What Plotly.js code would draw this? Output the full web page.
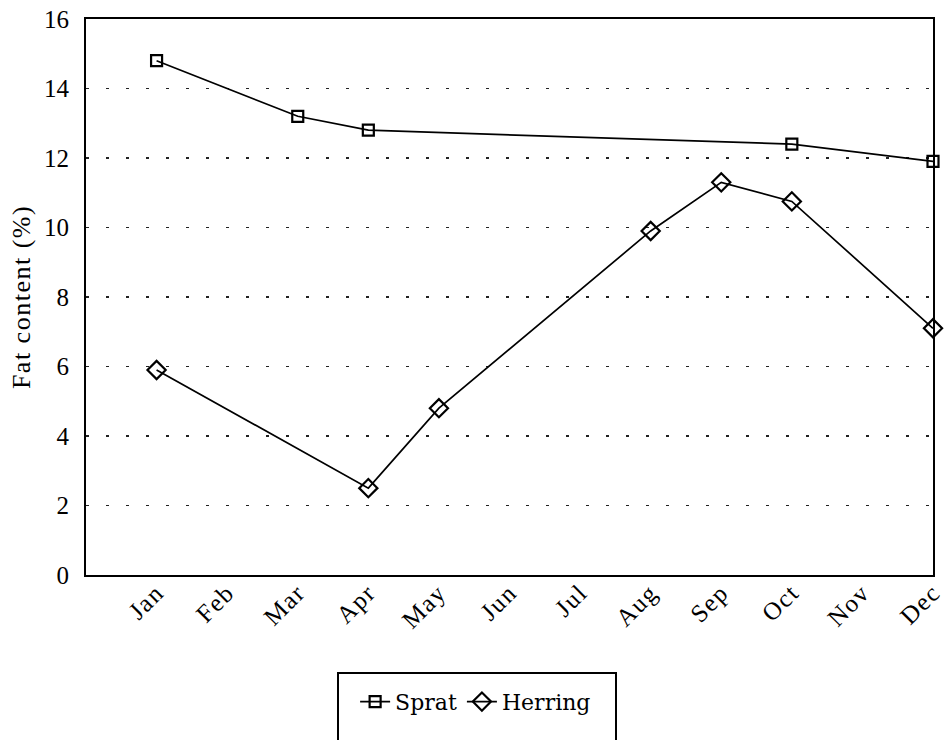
<!DOCTYPE html>
<html>
<head>
<meta charset="utf-8">
<script src="https://cdn.plot.ly/plotly-3.0.1.min.js"></script>
<style>
html,body{margin:0;padding:0;background:#fff;}
#chart{width:946px;height:740px;}
#chart .xtick text{letter-spacing:1.5px;}
#chart .ytitle{letter-spacing:1.5px;}
</style>
</head>
<body>
<div id="chart"></div>
<script>
const months = ["Jan","Feb","Mar","Apr","May","Jun","Jul","Aug","Sep","Oct","Nov","Dec"];
const sprat = [14.8, null, 13.2, 12.8, null, null, null, null, null, 12.4, null, 11.9];
const herring = [5.9, null, null, 2.5, 4.8, null, null, 9.9, 11.3, 10.75, null, 7.1];
const yTicks = [0, 2, 4, 6, 8, 10, 12, 14, 16];

const font = {family: "Liberation Serif, Times New Roman, serif", color: "#000"};

const traces = [
  {x: months, y: sprat, name: "Sprat", type: "scatter", mode: "lines+markers", connectgaps: true,
   cliponaxis: false,
   line: {color: "#000", width: 1.7},
   marker: {symbol: "square-open", size: 11, color: "#000", line: {width: 2.2}}},
  {x: months, y: herring, name: "Herring", type: "scatter", mode: "lines+markers", connectgaps: true,
   cliponaxis: false,
   line: {color: "#000", width: 1.7},
   marker: {symbol: "diamond-open", size: 14, color: "#000", line: {width: 2.2}}}
];

const layout = {
  width: 946, height: 740,
  margin: {l: 86, r: 13, t: 19, b: 165},
  paper_bgcolor: "#fff", plot_bgcolor: "#fff",
  font: Object.assign({size: 20}, font),
  showlegend: true,
  legend: {orientation: "h", x: 0.46, xanchor: "center", y: -0.228, yanchor: "middle",
           font: {family: "DejaVu Serif, serif", size: 22, color: "#000"},
           bgcolor: "rgba(0,0,0,0)", borderwidth: 0,
           itemwidth: 30, tracegroupgap: 0},
  xaxis: {type: "category", categoryorder: "array", categoryarray: months,
          range: [-1, 11], tickangle: -45, showgrid: false, zeroline: false,
          showline: true, mirror: true, linecolor: "#000", linewidth: 2, ticks: "",
          ticklabelstandoff: -9,
          tickfont: Object.assign({size: 25}, font), fixedrange: true},
  yaxis: {range: [0, 16], tickvals: yTicks, ticktext: yTicks.map(String),
          showgrid: true, gridcolor: "#222", gridwidth: 1.5, griddash: "3px,17px",
          zeroline: false, showline: true, mirror: true, linecolor: "#000", linewidth: 2,
          ticks: "", ticklabelstandoff: 10,
          tickfont: Object.assign({size: 25}, font),
          title: {text: "Fat content (%)", font: Object.assign({size: 26}, font), standoff: 6},
          fixedrange: true},
  shapes: [
    {type: "rect", xref: "paper", yref: "paper",
     x0: (338 - 86) / 847, x1: (616 - 86) / 847,
     y0: (575 - 760) / 556, y1: (575 - 673) / 556,
     line: {color: "#000", width: 2}, fillcolor: "rgba(0,0,0,0)", layer: "below"}
  ]
};

Plotly.newPlot("chart", traces, layout, {displayModeBar: false, staticPlot: true});
</script>
</body>
</html>
